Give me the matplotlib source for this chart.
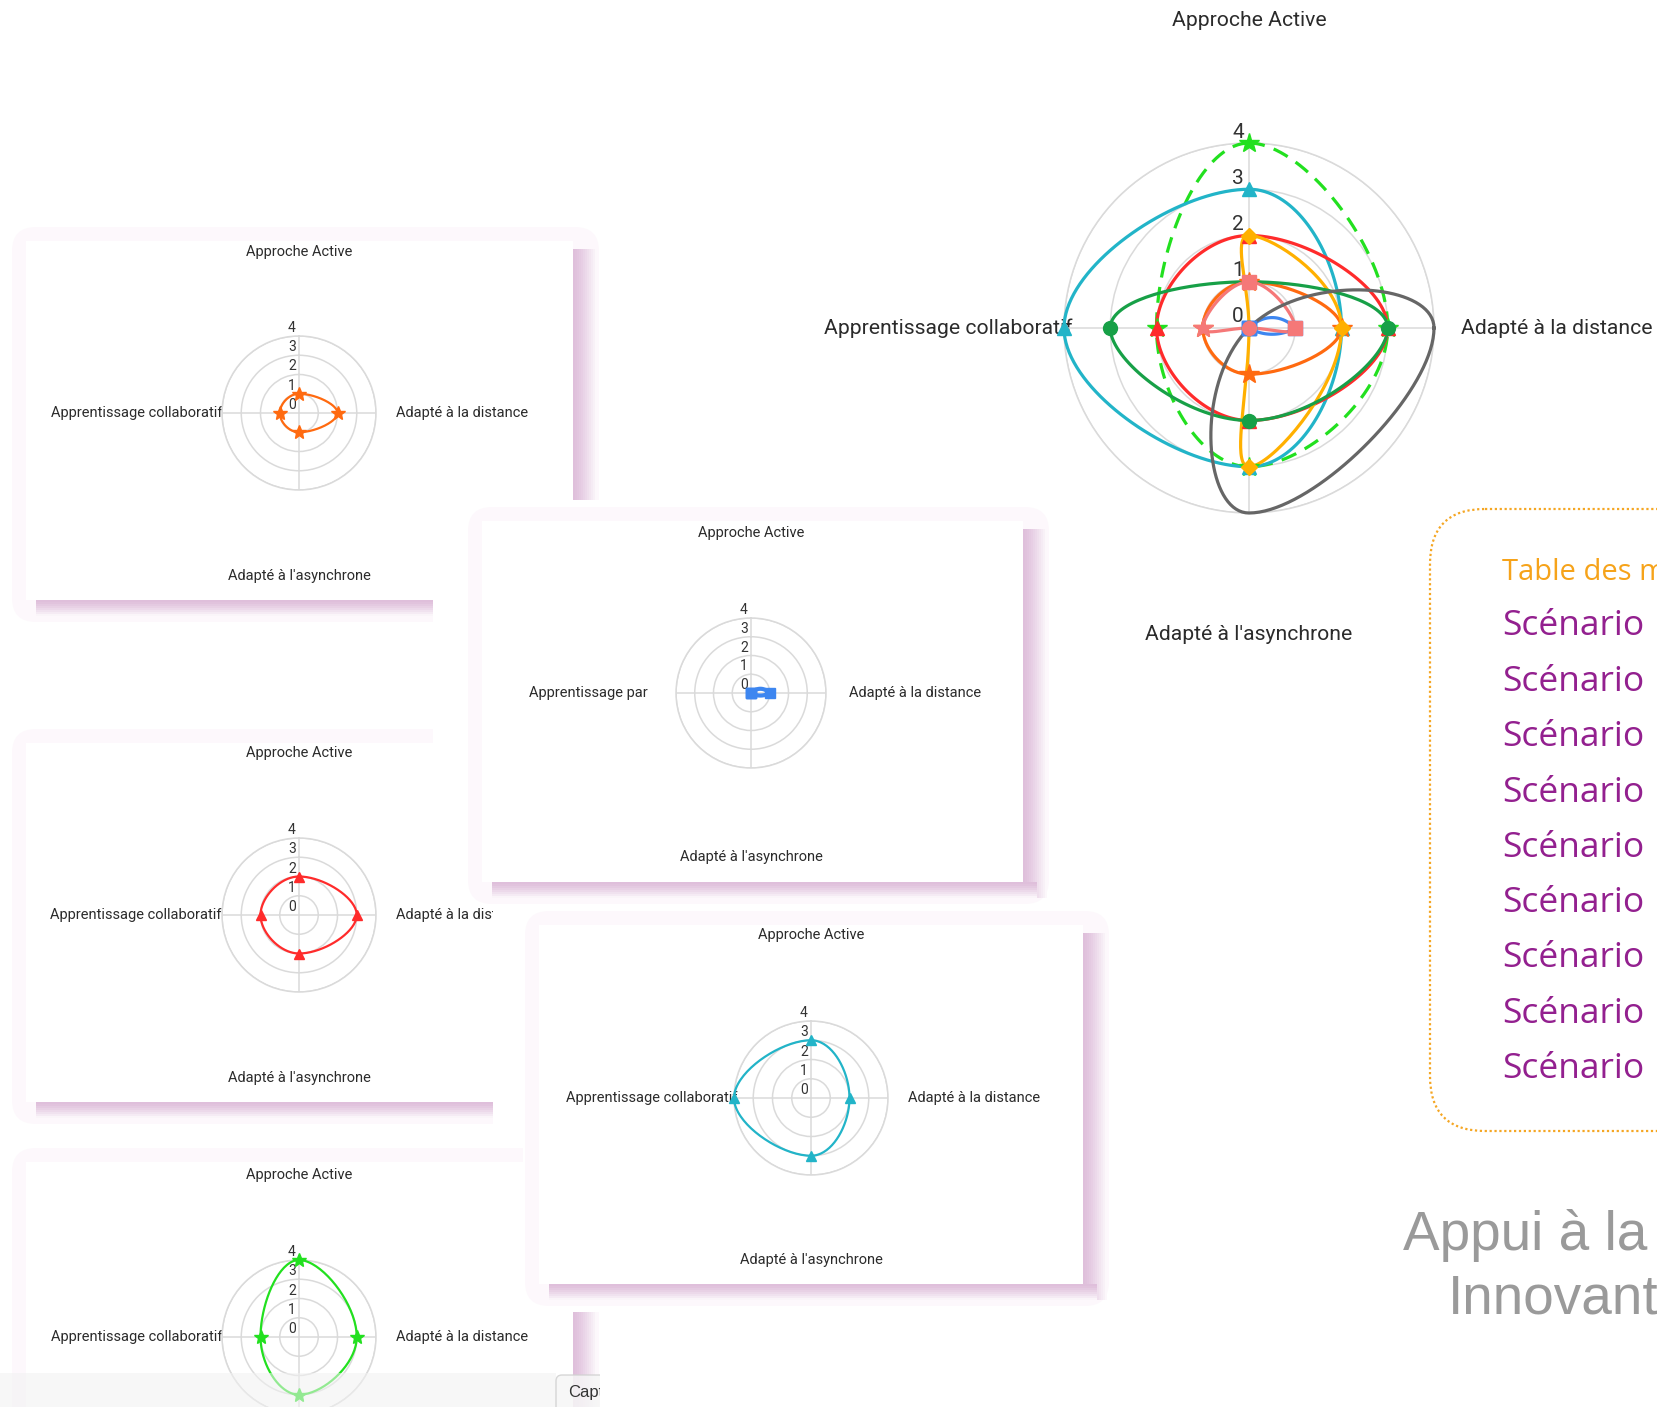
"""Collage of radar charts (scenario comparison) with a table-of-contents card."""
import numpy as np
import matplotlib
matplotlib.use("Agg")
import matplotlib.pyplot as plt
from matplotlib.patches import Rectangle, FancyBboxPatch
from matplotlib.colors import to_rgb

W, H = 1657, 1407
FONT = ["Roboto", "DejaVu Sans"]

# ---- data ----
CATEGORIES = ["Approche Active", "Adapté à la distance",
              "Adapté à l'asynchrone", "Apprentissage collaboratif"]
RADIAL_TICKS = [0, 1, 2, 3, 4]
lime_vals = [4, 3, 3, 2]
teal_vals = [3, 2, 3, 4]
red_vals = [2, 3, 2, 2]
orange_vals = [1, 2, 1, 1]
amber_vals = [2, 2, 3, 0]
dkgreen_vals = [1, 3, 2, 3]
salmon_vals = [1, 1, 0, 1]
blue_vals = [0, 1, 0, 0]
gray_vals = [0, 4, 4, 0]
TOC_TITLE = "Table des matières"
TOC_ITEMS = ["Scénario"] * 9
SIDE_TITLE = ["Appui à la", "Innovante"]

LIME = "#22e01f"; TEAL = "#22b4c8"; RED = "#ff2b2b"; ORANGE = "#ff6a10"
AMBER = "#ffb000"; DKGREEN = "#17a047"; SALMON = "#f57878"; BLUE = "#3d86f0"
GRAY = "#666666"; INK = "#2b2b2b"; RING = "#dadada"

# (values, colour, markers, dashed, tension)
MAIN = [
    (lime_vals, LIME, "*", True, 0.45),
    (teal_vals, TEAL, "^", False, 0.45),
    (red_vals, RED, "^", False, 0.45),
    (orange_vals, ORANGE, "*", False, 0.45),
    (amber_vals, AMBER, "D", False, 0.45),
    (dkgreen_vals, DKGREEN, "o", False, 0.45),
    (blue_vals, BLUE, "s", False, 0.45),
    (salmon_vals, SALMON, ["s", "s", "o", "*"], False, 0.45),
    (gray_vals, GRAY, None, False, 0.6),
]


def px_rect(x0, y0, x1, y1):
    return [x0 / W, 1 - y1 / H, (x1 - x0) / W, (y1 - y0) / H]


def bezier(p0, c0, c1, p1, n):
    u = np.linspace(0, 1, n)[:, None]
    return ((1 - u) ** 3 * p0 + 3 * (1 - u) ** 2 * u * c0
            + 3 * (1 - u) * u ** 2 * c1 + u ** 3 * p1)


def smooth_loop(vals, t=0.45, n=40):
    vals = np.asarray(vals, float)
    ang = np.arange(len(vals)) * 2 * np.pi / len(vals)
    pts = np.column_stack([vals * np.sin(ang), vals * np.cos(ang)])
    keep = [p for i, p in enumerate(pts) if not np.allclose(p, pts[i - 1])]
    P = np.array(keep) if keep else pts[:1]
    m = len(P)
    if m == 1:
        xy = P
    elif m == 2:
        # thin lens between the two distinct points
        d = P[1] - P[0]
        perp = np.array([-d[1], d[0]]) * 0.3
        xy = np.vstack([bezier(P[0], P[0] + 0.3 * d - perp, P[1] - 0.3 * d - perp, P[1], n),
                        bezier(P[1], P[1] - 0.3 * d + perp * 0.6, P[0] + 0.3 * d + perp * 0.6, P[0], n)])
    else:
        cprev, cnext = [], []
        for i in range(m):
            a, b, c = P[i - 1], P[i], P[(i + 1) % m]
            d01, d12 = np.hypot(*(b - a)), np.hypot(*(c - b))
            s01, s12 = d01 / (d01 + d12), d12 / (d01 + d12)
            cprev.append(b - t * s01 * (c - a))
            cnext.append(b + t * s12 * (c - a))
        xy = np.vstack([bezier(P[i], cnext[i], cprev[(i + 1) % m], P[(i + 1) % m], n)
                        for i in range(m)])
    theta = np.unwrap(np.arctan2(xy[:, 0], xy[:, 1]))
    return theta, np.hypot(xy[:, 0], xy[:, 1])


def radar(center, radius, z, series, lw, ms, tick_fs, tick_off):
    cx, cy = center
    ax = fig.add_axes(px_rect(cx - radius, cy - radius, cx + radius, cy + radius),
                      projection="polar", zorder=z)
    ax.set_theta_offset(np.pi / 2); ax.set_theta_direction(-1)
    ax.set_facecolor("none")
    ang = np.arange(len(CATEGORIES)) * 2 * np.pi / len(CATEGORIES)
    ax.set_xticks(ang); ax.set_xticklabels([])
    ax.set_yticks(RADIAL_TICKS[1:]); ax.set_yticklabels([])
    ax.set_ylim(0, RADIAL_TICKS[-1])
    ax.grid(color=RING, lw=1.1)
    ax.spines["polar"].set_color(RING); ax.spines["polar"].set_linewidth(1.1)
    for v in RADIAL_TICKS:
        ax.annotate(str(v), (0, v), xytext=tick_off, textcoords="offset pixels",
                    ha="center", va="center", fontsize=tick_fs, color="#333",
                    family=FONT, annotation_clip=False, zorder=1)
    for vals, col, mk, dashed, tens in series:
        th, r = smooth_loop(vals, tens)
        ax.plot(th, r, color=col, lw=lw, clip_on=False, zorder=3,
                dashes=(5, 3) if dashed else (None, None))
    for vals, col, mk, dashed, tens in series:
        if mk is None:
            continue
        mks = mk if isinstance(mk, list) else [mk] * len(vals)
        for a, v, m in zip(ang, vals, mks):
            size = ms * (1.45 if m == "*" else 0.8 if m == "D" else 1.0)
            ax.plot([a], [v], marker=m, ms=size, color=col, mec=col,
                    ls="none", clip_on=False, zorder=4)
    return ax


def tile(box, card, z, right_shadow=True):
    x0, y0, x1, y1 = box
    ax = fig.add_axes(px_rect(*box), zorder=z)
    ax.set_xlim(x0, x1); ax.set_ylim(y1, y0); ax.axis("off")
    ax.add_patch(Rectangle((x0, y0), x1 - x0, y1 - y0, fc="white", ec="none", zorder=0))
    cx0, cy0, cx1, cy1 = card
    ax.add_patch(FancyBboxPatch((cx0 - 14, cy0 - 14), cx1 - cx0 + 40, cy1 - cy0 + 36,
                                boxstyle="round,pad=0,rounding_size=24",
                                fc="#fdf8fc", ec="none", zorder=0.5))
    dark, white = np.array(to_rgb("#dfbfdb")), np.ones(3)
    if right_shadow:
        for k in range(12):
            c = dark + (white - dark) * (k / 12) ** 1.3
            ax.add_patch(Rectangle((cx1 + 2 * k, cy0 + 8), 2.2, cy1 - cy0 + 8,
                                   fc=c, ec="none", zorder=1))
    for k in range(8):
        c = dark + (white - dark) * (k / 8) ** 1.3
        ax.add_patch(Rectangle((cx0 + 10, cy1 + 2 * k), cx1 - cx0 + 4, 2.2,
                               fc=c, ec="none", zorder=1))
    ax.add_patch(Rectangle((cx0, cy0), cx1 - cx0, cy1 - cy0, fc="white", ec="none", zorder=2))
    return ax


def panel_labels(ax, center, title_y, left_x, right_x, bottom_y, left_text):
    cx, cy = center
    kw = dict(fontsize=10.5, color=INK, family=FONT, clip_on=True, zorder=3, va="center")
    ax.text(cx, title_y, CATEGORIES[0], ha="center", **kw)
    ax.text(right_x, cy, CATEGORIES[1], ha="left", **kw)
    if bottom_y is not None:
        ax.text(cx, bottom_y, CATEGORIES[2], ha="center", **kw)
    ax.text(left_x, cy, left_text, ha="right", **kw)


fig = plt.figure(figsize=(W / 100, H / 100), dpi=100)
fig.patch.set_facecolor("white")

# ---- background layer (main chart labels, table card, side title) ----
bg = fig.add_axes([0, 0, 1, 1], zorder=0)
bg.set_xlim(0, W); bg.set_ylim(H, 0); bg.axis("off")
mkw = dict(fontsize=15.2, color=INK, family=FONT, va="center")
bg.text(1249, 21, CATEGORIES[0], ha="center", **mkw)
bg.text(1461, 328, CATEGORIES[1], ha="left", **mkw)
bg.text(1249, 635, CATEGORIES[2], ha="center", **mkw)
bg.text(1072, 328, CATEGORIES[3], ha="right", **mkw)

bg.add_patch(FancyBboxPatch((1430, 509), 420, 622,
                            boxstyle="round,pad=0,rounding_size=55",
                            fill=False, ec="#f5a623", ls=(0, (1, 1.2)), lw=1.6))
bg.text(1502, 573, TOC_TITLE, ha="left", va="center", fontsize=21,
        color="#f6a31a", family=["Open Sans", "DejaVu Sans"])
toc_y = [626, 682, 737, 793, 848, 903, 958, 1014, 1069]
for y, item in zip(toc_y, TOC_ITEMS):
    bg.text(1502, y, item, ha="left", va="center", fontsize=25.5,
            color="#93208f", family=["Open Sans", "DejaVu Sans"])
bg.text(1403, 1236, SIDE_TITLE[0], ha="left", va="center", fontsize=39.5,
        color="#9a9a9a", family=["Liberation Sans", "DejaVu Sans"])
bg.text(1448, 1300, SIDE_TITLE[1], ha="left", va="center", fontsize=39.5,
        color="#9a9a9a", family=["Liberation Sans", "DejaVu Sans"])

# ---- main radar ----
radar((1249, 328), 185, 20, MAIN, lw=2.3, ms=10, tick_fs=15, tick_off=(-11, 11))

# ---- small screenshot tiles ----
R = 77
# orange
axA = tile((8, 225, 600, 625), (26, 241, 573, 600), 1)
panel_labels(axA, (299, 413), 252, 222, 396, 576, CATEGORIES[3])
radar((299, 413), R, 1.5, [(orange_vals, ORANGE, "*", False, 0.45)], 1.6, 7, 10, (-7, 8))
# red
axC = tile((8, 727, 493, 1140), (26, 743, 493, 1102), 2, right_shadow=False)
panel_labels(axC, (299, 915), 753, 222, 396, 1078, CATEGORIES[3])
radar((299, 915), R, 2.5, [(red_vals, RED, "^", False, 0.45)], 1.6, 7, 10, (-7, 8))
# green
axE = tile((8, 1148, 600, 1407), (26, 1162, 573, 1430), 3)
panel_labels(axE, (299, 1337), 1175, 222, 396, None, CATEGORIES[3])
radar((299, 1337), R, 3.5, [(lime_vals, LIME, "*", False, 0.45)], 1.6, 7, 10, (-7, 8))
# blue
axB = tile((433, 500, 1062, 905), (482, 521, 1023, 882), 4)
panel_labels(axB, (751, 693), 533, 648, 849, 857, "Apprentissage par")
radar((751, 693), 75, 4.5, [(blue_vals, BLUE, "s", False, 0.45)], 3.0, 7, 10, (-7, 8))
# teal
axD = tile((523, 909, 1114, 1312), (539, 925, 1083, 1284), 5)
panel_labels(axD, (811, 1098), 935, 737, 908, 1260, CATEGORIES[3])
radar((811, 1098), R, 5.5, [(teal_vals, TEAL, "^", False, 0.45)], 1.6, 7, 10, (-7, 8))

# ---- bottom toolbar strip over the left column ----
bar = fig.add_axes(px_rect(0, 1360, 600, H), zorder=10)
bar.set_xlim(0, 600); bar.set_ylim(H, 1360); bar.axis("off")
bar.add_patch(Rectangle((0, 1373), 556, 40, fc="#f2f2f2", ec="none", alpha=0.55))
bar.add_patch(FancyBboxPatch((556, 1375), 60, 40, boxstyle="round,pad=0,rounding_size=6",
                             fc="#f6f6f6", ec="#d0d0d0", lw=1, alpha=0.85))
bar.text(568, 1393, "Capture", ha="left", va="center", fontsize=12, color="#333",
         family=["Liberation Sans", "DejaVu Sans"], clip_on=True)

fig.savefig("out.png", dpi=100, facecolor="white")
